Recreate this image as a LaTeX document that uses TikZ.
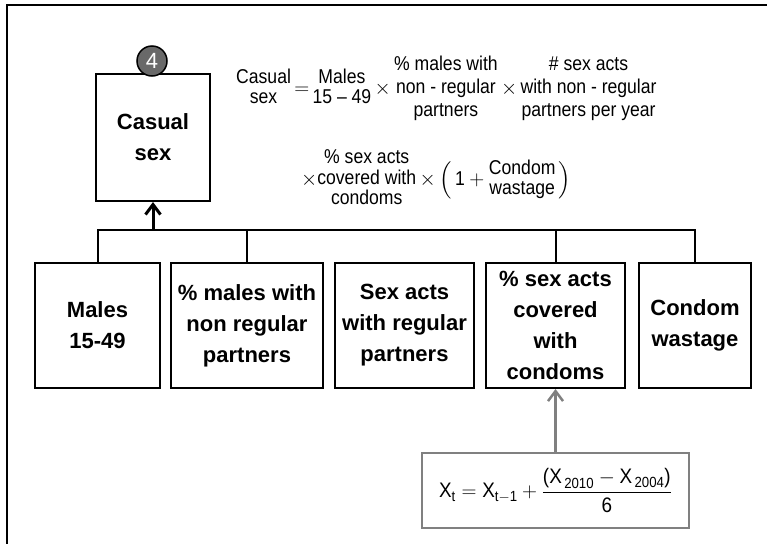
\documentclass[tikz,border=0pt]{standalone}
\usepackage{fontspec}
\setmainfont{Liberation Sans}
\usepackage{amsmath}
\usetikzlibrary{arrows.meta, positioning}
\definecolor{badgegray}{RGB}{105, 105, 105}
\definecolor{linkgray}{RGB}{128, 128, 128}
\newcommand{\stk}[2][1]{{\renewcommand{\arraystretch}{#1}\begin{tabular}{@{}c@{}}#2\end{tabular}}}

\begin{document}
\begin{tikzpicture}[x=1pt, y=-1pt,
	block/.style={draw, line width=2pt, align=center, inner sep=0pt,
		font=\bfseries\fontsize{22}{31}\selectfont},
	link/.style={line width=2pt},
	eq/.style={inner sep=0pt, font=\addfontfeature{FakeStretch=0.88}\fontsize{20}{23}\selectfont}]
	\useasboundingbox (0,0) rectangle (767,544);
	\draw[line width=2pt] (767,5) -- (7,5) -- (7,544);

	% top block
	\node[block, minimum width=114pt, minimum height=127pt] (casual) at (153,137.5) {Casual\\sex};
	\node[circle, draw, line width=1.5pt, fill=badgegray, text=white, inner sep=0pt,
	minimum size=30pt, font=\fontsize{22}{22}\selectfont] (badge) at (152,61) {4};

	% inputs
	\node[block, minimum width=125pt, minimum height=125pt] (males) at (97.5,325.5) {Males\\15-49};
	\node[block, minimum width=152pt, minimum height=125pt] (nonreg) at (247,325.5) {\% males with\\non regular\\partners};
	\node[block, minimum width=139pt, minimum height=125pt] (regular) at (404.5,325.5) {Sex acts\\with regular\\partners};
	\node[block, minimum width=139pt, minimum height=125pt] (covered) at (555.5,325.5) {\% sex acts\\covered\\with\\condoms};
	\node[block, minimum width=112pt, minimum height=125pt] (wastage) at (695,325.5) {Condom\\wastage};

	\coordinate (bus) at (153,230);
	\draw[link] (males.north) |- (bus) -| (wastage.north);
	\draw[link] (nonreg.north) -- (nonreg.north |- bus);
	\draw[link] (covered.north) -- (covered.north |- bus);
	\draw[link, line width=3pt, -{Straight Barb[length=10pt, width=15pt]}] (bus) -- (casual.south);

	% formulas
	\node[eq, anchor=west] (ratetop) at (236,89) {\stk[0.85]{Casual\\sex}\,$=$\,\stk[0.85]{Males\\15 -- 49}\,$\times$\,\stk{\% males with\\non - regular\\partners}\,$\times$\,\stk{\# sex acts\\with non - regular\\partners per year}};
	\node[eq, anchor=west] (ratebot) at (301,180) {$\times$\stk[0.85]{\% sex acts\\covered with\\condoms}$\,\times\left(\,\text{1}+\stk[0.85]{Condom\\wastage}\,\right)$};

	\node[draw=linkgray, line width=2.5pt, minimum width=267pt, minimum height=75pt, inner sep=0pt,
	font=\addfontfeature{FakeStretch=0.9}\fontsize{21}{24}\selectfont] (trend) at (555.5,490.5)
	{$\displaystyle \text{X}_{\text{t}} = \text{X}_{\text{t}-\text{1}} + \frac{\text{(X}_{\,\text{2010}} - \text{X}_{\,\text{2004}}\text{)}}{\text{6}}$};
	\draw[line width=2.5pt, linkgray, -{Straight Barb[length=10pt, width=15pt]}] (trend.north) -- (covered.south);
\end{tikzpicture}
\end{document}
